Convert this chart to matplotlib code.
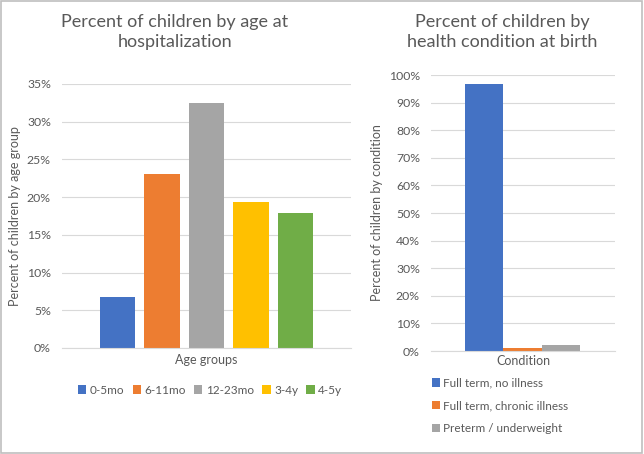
import matplotlib.pyplot as plt
from matplotlib.patches import Rectangle
from matplotlib.ticker import PercentFormatter

plt.rcParams['font.family'] = ['Lato', 'DejaVu Sans']

age_groups = ['0-5mo', '6-11mo', '12-23mo', '3-4y', '4-5y']
age_pct = [6.8, 23.1, 32.5, 19.3, 17.9]
age_colors = ['#4472C4', '#ED7D31', '#A5A5A5', '#FFC000', '#70AD47']

conditions = ['Full term, no illness', 'Full term, chronic illness', 'Preterm / underweight']
cond_pct = [96.7, 1.0, 2.1]
cond_colors = ['#4472C4', '#ED7D31', '#A5A5A5']

txt = '#595959'
grid = '#D9D9D9'

fig = plt.figure(figsize=(6.44, 4.54), dpi=100)
fig.patches.append(Rectangle((0.001, 0.003), 0.996, 0.994, transform=fig.transFigure,
                             fill=False, edgecolor='#BFBFBF', linewidth=1.2))


def style(ax):
    for s in ax.spines.values():
        s.set_visible(False)
    ax.spines['bottom'].set_visible(True)
    ax.spines['bottom'].set_color(grid)
    ax.grid(axis='y', color=grid, linewidth=0.8)
    ax.set_axisbelow(True)
    ax.tick_params(length=0, colors=txt, labelsize=8.8, pad=8)
    ax.yaxis.set_major_formatter(PercentFormatter(decimals=0))


# left chart
ax1 = fig.add_axes([62 / 644, 106 / 454, 289 / 644, 264 / 454])
for i, (lab, v, c) in enumerate(zip(age_groups, age_pct, age_colors)):
    ax1.bar(i, v, width=0.79, color=c, label=lab)
ax1.set_xlim(-1.25, 5.25)
ax1.set_ylim(0, 35)
ax1.set_yticks(range(0, 36, 5))
ax1.set_xticks([])
style(ax1)
ax1.set_ylabel('Percent of children by age group', color=txt, fontsize=9, labelpad=4)
ax1.set_xlabel('Age groups', color=txt, fontsize=9, labelpad=4)
fig.text(175 / 644, 1 - 32 / 454, 'Percent of children by age at\nhospitalization',
         ha='center', va='center', fontsize=13, color=txt, linespacing=1.3)
ax1.legend(loc='center', bbox_to_anchor=(210 / 644, 1 - 390 / 454), bbox_transform=fig.transFigure,
           ncol=5, frameon=False, fontsize=8.5, labelcolor=txt, handlelength=0.7, handleheight=0.7,
           handletextpad=0.3, columnspacing=0.7)

# right chart
ax2 = fig.add_axes([431 / 644, 103 / 454, 184 / 644, 276 / 454])
for i, (lab, v, c) in enumerate(zip(conditions, cond_pct, cond_colors)):
    ax2.bar(i, v, width=1.0, color=c, label=lab)
ax2.set_xlim(-1.377, 3.4)
ax2.set_ylim(0, 100)
ax2.set_yticks(range(0, 101, 10))
ax2.set_xticks([])
style(ax2)
ax2.set_ylabel('Percent of children by condition', color=txt, fontsize=9, labelpad=4)
ax2.set_xlabel('Condition', color=txt, fontsize=9, labelpad=3)
fig.text(502 / 644, 1 - 32 / 454, 'Percent of children by\nhealth condition at birth',
         ha='center', va='center', fontsize=13, color=txt, linespacing=1.3)
ax2.legend(loc='upper left', bbox_to_anchor=(421 / 644, 1 - 367 / 454), bbox_transform=fig.transFigure,
           ncol=1, frameon=False, fontsize=8.5, labelcolor=txt, handlelength=0.7, handleheight=0.7,
           handletextpad=0.3, labelspacing=1.0)

fig.savefig('out.png', dpi=100)
